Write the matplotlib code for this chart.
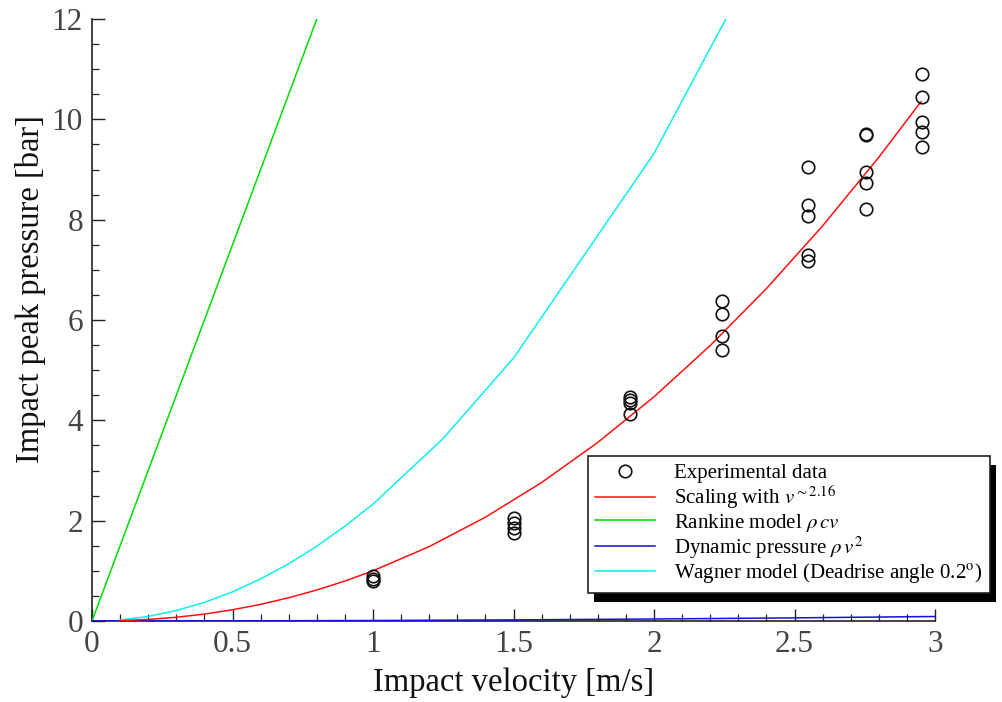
import matplotlib
matplotlib.use("Agg")
import matplotlib.pyplot as plt
from matplotlib.patches import Rectangle
from matplotlib.transforms import IdentityTransform
from matplotlib.ticker import MultipleLocator

plt.rcParams['font.family'] = ['Liberation Serif', 'DejaVu Serif']
plt.rcParams['mathtext.fontset'] = 'stix'

# Experimental data (velocity [m/s], peak pressure [bar])
exp_v = [1.0, 1.0, 1.0,
         1.5, 1.5, 1.5, 1.5,
         1.915, 1.915, 1.915, 1.915,
         2.242, 2.242, 2.242, 2.242,
         2.548, 2.548, 2.548, 2.548, 2.548,
         2.754, 2.754, 2.754, 2.754, 2.754,
         2.954, 2.954, 2.954, 2.954, 2.954]
exp_p = [0.90, 0.84, 0.79,
         2.06, 1.96, 1.86, 1.75,
         4.46, 4.40, 4.34, 4.13,
         6.37, 6.12, 5.68, 5.40,
         9.04, 8.29, 8.08, 7.30, 7.17,
         9.71, 9.68, 8.96, 8.74, 8.22,
         10.90, 10.44, 9.94, 9.75, 9.45]

# Scaling curve
scal_v = [0.1, 0.2, 0.3, 0.4, 0.5, 0.6, 0.7, 0.8, 0.9, 1.0,
          1.2, 1.4, 1.6, 1.8, 2.0, 2.2, 2.4, 2.6, 2.8, 2.95]
scal_p = [0.0069, 0.031, 0.074, 0.138, 0.224, 0.332, 0.463, 0.618, 0.797, 1.0,
          1.483, 2.069, 2.760, 3.560, 4.469, 5.491, 6.626, 7.876, 9.244, 10.35]

# Rankine model
rank_v = [0.0, 1.0, 2.0, 3.0]
rank_p = [0.0, 15.0, 30.0, 45.0]

# Dynamic pressure
dyn_v = [0.0, 0.5, 1.0, 1.5, 2.0, 2.5, 3.0]
dyn_p = [0.0, 0.0025, 0.01, 0.0225, 0.04, 0.0625, 0.09]

# Wagner model
wag_v = [0.1, 0.2, 0.3, 0.4, 0.5, 0.6, 0.7, 0.8, 0.9, 1.0, 1.25, 1.5, 2.0, 2.5]
wag_p = [0.02, 0.09, 0.21, 0.37, 0.58, 0.84, 1.14, 1.49, 1.89, 2.33, 3.64, 5.24, 9.32, 14.56]

x_ticks = [0, 0.5, 1, 1.5, 2, 2.5, 3]
x_tick_labels = ['0', '0.5', '1', '1.5', '2', '2.5', '3']
y_ticks = [0, 2, 4, 6, 8, 10, 12]
y_tick_labels = ['0', '2', '4', '6', '8', '10', '12']

fig = plt.figure(figsize=(10.02, 7.02), dpi=100)
ax = fig.add_axes([92/1002, 1 - 621/702, 843/1002, 602/702])

lw = 1.1
ax.plot(exp_v, exp_p, linestyle='none', marker='o', markersize=9,
        markerfacecolor='none', markeredgecolor='#111111', markeredgewidth=1.2,
        label='Experimental data', zorder=5)
ax.plot(scal_v, scal_p, color='#ff1010', lw=lw,
        label=r'Scaling with $v^{{\sim}2.16}$', zorder=4)
ax.plot(rank_v, rank_p, color='#00dd00', lw=lw,
        label=r'Rankine model $\rho\,cv$', zorder=3)
ax.plot(dyn_v, dyn_p, color='#1010e0', lw=lw,
        label=r'Dynamic pressure $\rho\,v^2$', zorder=3)
ax.plot(wag_v, wag_p, color='#10eeee', lw=lw,
        label=r'Wagner model (Deadrise angle 0.2$^{\rm o}$)', zorder=3)

ax.set_xlim(0, 3)
ax.set_ylim(0, 12)
ax.set_xticks(x_ticks)
ax.set_xticklabels(x_tick_labels)
ax.set_yticks(y_ticks)
ax.set_yticklabels(y_tick_labels)
ax.xaxis.set_minor_locator(MultipleLocator(0.1))
ax.yaxis.set_minor_locator(MultipleLocator(0.5))

for s in ['top', 'right']:
    ax.spines[s].set_visible(False)
for s in ['left', 'bottom']:
    ax.spines[s].set_linewidth(1.2)
    ax.spines[s].set_color('#222222')

ax.tick_params(which='major', direction='in', length=9, width=1.0,
               labelsize=22.5, labelcolor='#444444', color='#222222', pad=6.5)
ax.tick_params(which='minor', direction='in', length=5, width=0.9, color='#222222')

ax.set_xlabel('Impact velocity [m/s]', fontsize=23.5, color='#111111', labelpad=6)
ax.set_ylabel('Impact peak pressure [bar]', fontsize=23.5, color='#111111')
ax.yaxis.set_label_coords(-0.055, 0.551)

leg = ax.legend(loc='upper left', bbox_to_anchor=(0.588, 0.274), borderaxespad=0,
                fontsize=15, frameon=True, fancybox=False, framealpha=1,
                edgecolor='#222222', handlelength=2.9, handletextpad=0.9,
                labelspacing=0.03, borderpad=0.35)
leg.get_frame().set_linewidth(1.2)
leg.set_zorder(10)

fig.canvas.draw()
bb = leg.get_window_extent(fig.canvas.get_renderer())
shadow = Rectangle((bb.x0 + 6, bb.y0 - 9), bb.width, bb.height,
                   facecolor='black', edgecolor='none', zorder=9)
ax.add_artist(shadow)
shadow.set_transform(IdentityTransform())
shadow.set_clip_on(False)

fig.savefig('out.png', dpi=100)
